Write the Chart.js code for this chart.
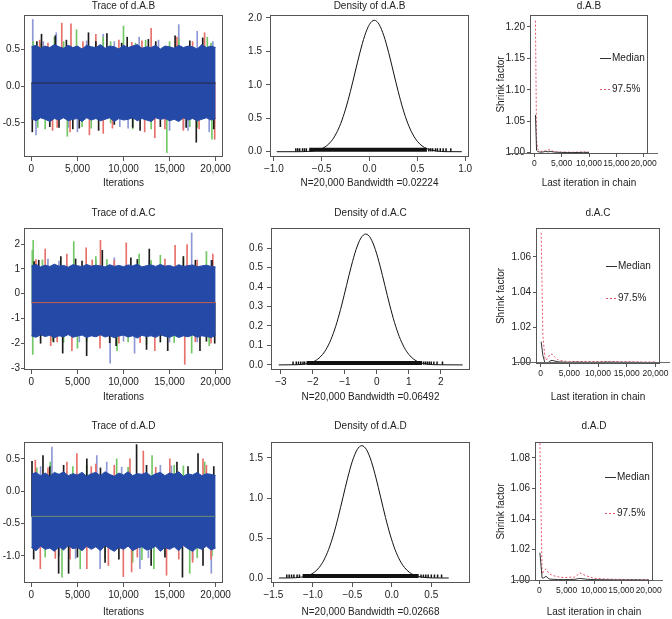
<!DOCTYPE html>
<html>
<head>
<meta charset="utf-8">
<script src="https://cdn.jsdelivr.net/npm/chart.js@4.4.0/dist/chart.umd.min.js"></script>
<style>
body { margin: 0; background: #fff; width: 672px; height: 619px; overflow: hidden; position: relative; }
canvas { position: absolute; }
</style>
</head>
<body>
<script>
// ---- data ----
var iterTicks = [0, 5000, 10000, 15000, 20000];
var iterRange = [0, 20000];
var bandIters = [0,500,1000,1500,2000,2500,3000,3500,4000,4500,5000,5500,6000,6500,7000,7500,8000,8500,9000,9500,10000,10500,11000,11500,12000,12500,13000,13500,14000,14500,15000,15500,16000,16500,17000,17500,18000,18500,19000,19500,20000];

// trace d.A.B : edges of the dense blue band + spikes of each chain that stick out
var abBandHi = [0.53,0.55,0.51,0.54,0.52,0.56,0.53,0.51,0.55,0.52,0.54,0.50,0.55,0.53,0.52,0.56,0.51,0.54,0.53,0.50,0.55,0.52,0.54,0.56,0.51,0.53,0.52,0.55,0.50,0.54,0.53,0.51,0.55,0.52,0.54,0.53,0.50,0.56,0.52,0.54,0.52];
var abBandLo = [-0.44,-0.47,-0.43,-0.45,-0.48,-0.44,-0.46,-0.43,-0.47,-0.45,-0.44,-0.48,-0.43,-0.46,-0.44,-0.47,-0.45,-0.43,-0.48,-0.44,-0.46,-0.45,-0.43,-0.47,-0.44,-0.46,-0.48,-0.43,-0.45,-0.44,-0.47,-0.45,-0.48,-0.43,-0.46,-0.44,-0.47,-0.45,-0.43,-0.46,-0.44];
var abBlack = [[100,-0.62],[1100,0.70],[2000,-0.55],[2600,0.68],[4500,-0.58],[6200,0.72],[7300,-0.60],[8200,0.71],[9000,-0.52],[10400,0.66],[11800,-0.60],[12700,0.63],[14000,-0.55],[15600,0.68],[17900,-0.76],[18600,0.65],[19800,-0.58],[600,0.60],[3000,-0.56],[3800,0.62],[5200,-0.57],[7000,0.60],[9800,0.58],[11000,-0.56],[13500,0.60],[16800,-0.56],[17200,0.61]];
var abRed = [[900,0.62],[2300,-0.60],[3300,0.85],[4200,-0.62],[4300,0.84],[6300,-0.66],[7000,0.70],[7800,-0.64],[9500,0.62],[12300,-0.62],[13000,0.78],[13400,-0.70],[15800,0.66],[16500,-0.60],[18800,0.72],[19900,-0.72],[1800,0.58],[2800,-0.56],[5600,0.60],[8800,-0.57],[10900,0.59],[12000,0.61],[14500,-0.58],[17500,0.60],[18200,-0.58]];
var abGreen = [[200,0.60],[1500,-0.58],[2500,0.66],[3900,-0.68],[4900,0.76],[5500,-0.55],[7800,0.66],[8600,-0.50],[10000,0.81],[11000,-0.58],[12400,0.62],[14700,-0.90],[16000,0.63],[17200,-0.55],[19100,0.66],[19600,-0.72],[700,-0.56],[1000,0.58],[3500,0.60],[6500,-0.57],[8600,0.60],[11300,0.58],[13000,-0.58],[15000,0.60],[18000,-0.56],[19500,0.58]];
var abBlue = [[150,0.90],[500,-0.66],[2700,0.72],[5000,-0.62],[7800,0.70],[9600,-0.55],[11700,0.66],[15000,-0.60],[16000,0.83],[17000,-0.60],[18000,0.74],[19300,-0.62],[1300,0.60],[4000,-0.56],[6000,0.61],[9000,0.60],[10500,-0.57],[13800,0.62],[16500,-0.58],[19700,0.60]];

// trace d.A.C
var acBandHi = [1.12,1.18,1.08,1.15,1.10,1.19,1.11,1.14,1.07,1.17,1.13,1.09,1.18,1.11,1.15,1.12,1.08,1.17,1.10,1.14,1.09,1.16,1.12,1.19,1.08,1.13,1.16,1.10,1.18,1.11,1.14,1.07,1.17,1.10,1.13,1.16,1.09,1.12,1.15,1.10,1.08];
var acBandLo = [-1.70,-1.76,-1.66,-1.73,-1.68,-1.78,-1.70,-1.74,-1.65,-1.76,-1.71,-1.67,-1.77,-1.70,-1.74,-1.66,-1.75,-1.69,-1.78,-1.71,-1.67,-1.75,-1.70,-1.79,-1.68,-1.73,-1.70,-1.76,-1.66,-1.72,-1.76,-1.68,-1.77,-1.70,-1.74,-1.67,-1.76,-1.70,-1.73,-1.77,-1.69];
var acBlack = [[300,1.30],[1000,-2.00],[3200,1.50],[3400,-2.40],[4800,1.40],[6000,-2.50],[7700,1.75],[9200,-2.10],[10800,1.45],[12500,-2.25],[12800,1.80],[14800,-2.30],[16500,1.50],[18300,-2.30],[19600,1.35],[19900,-2.00],[800,1.35],[2400,-1.95],[5500,1.32],[8500,-1.98],[11500,1.38],[14000,-1.95],[17800,1.35],[19000,-1.92]];
var acRed = [[1500,1.80],[2100,-2.10],[3850,1.60],[4400,-2.30],[5950,1.85],[7450,-2.20],[7500,2.15],[9500,-2.00],[10300,2.05],[13400,-2.30],[15600,1.95],[16650,-2.85],[16900,1.98],[19500,-2.00],[19700,1.60],[500,1.38],[2800,-1.95],[6600,1.36],[9000,1.34],[11800,-1.98],[14500,1.40],[18000,1.36],[17800,-1.94]];
var acGreen = [[100,1.75],[150,-2.45],[200,2.15],[2300,-1.90],[4600,2.10],[5000,-2.20],[7000,1.50],[9300,-2.30],[11700,1.60],[12500,-2.05],[14000,1.55],[17400,-2.40],[19000,1.70],[19300,-2.10],[1200,1.36],[3500,-1.96],[6000,-1.92],[8200,1.38],[10500,-1.95],[13000,1.34],[15500,-1.97],[16500,1.38]];
var acBlue = [[1800,1.40],[8550,-2.80],[9000,1.45],[11200,-2.40],[17400,2.45],[18000,-1.95],[3000,1.32],[5200,-1.95],[7000,1.35],[10000,-1.92],[12800,1.36],[15000,-1.95],[19500,1.34]];

// trace d.A.D
var adBandHi = [0.26,0.29,0.24,0.28,0.23,0.29,0.26,0.30,0.24,0.27,0.25,0.29,0.23,0.27,0.29,0.24,0.30,0.26,0.23,0.28,0.25,0.30,0.24,0.27,0.26,0.29,0.23,0.27,0.29,0.24,0.28,0.26,0.30,0.23,0.27,0.25,0.29,0.24,0.27,0.26,0.24];
var adBandLo = [-0.87,-0.92,-0.85,-0.90,-0.88,-0.93,-0.86,-0.91,-0.84,-0.89,-0.87,-0.92,-0.85,-0.90,-0.86,-0.92,-0.84,-0.89,-0.93,-0.87,-0.90,-0.85,-0.92,-0.88,-0.86,-0.91,-0.89,-0.85,-0.93,-0.87,-0.90,-0.86,-0.92,-0.84,-0.89,-0.93,-0.87,-0.90,-0.85,-0.91,-0.88];
var adBlack = [[70,0.46],[250,-1.05],[1260,0.55],[2960,-1.27],[3500,0.40],[4040,-1.27],[6020,0.50],[8000,-1.10],[11420,0.72],[13000,-1.15],[15800,0.45],[16400,-1.33],[18090,0.58],[18630,-1.15],[19800,0.38],[2000,0.38],[5000,-1.02],[7500,0.36],[9500,-1.05],[12500,0.40],[14500,-1.02],[17000,0.38]];
var adRed = [[430,0.48],[970,-1.20],[3860,0.45],[4200,-1.05],[4940,0.58],[6020,-1.20],[7000,0.42],[8360,-1.15],[9000,0.40],[9980,-1.32],[10700,0.50],[10880,-1.25],[12150,0.62],[14670,-1.30],[15030,0.50],[17500,-1.10],[18630,0.50],[19500,-1.05],[1800,0.36],[2600,-1.04],[6500,0.38],[11500,-1.02],[13500,0.37],[16000,-1.05],[19000,0.40]];
var adGreen = [[2050,0.45],[3320,-1.33],[4500,0.38],[5300,-1.20],[9260,0.50],[11000,-1.10],[13100,0.55],[13300,-1.20],[15500,0.40],[17190,-1.27],[18810,0.45],[19600,-1.00],[600,0.36],[1500,-1.02],[6000,0.40],[8000,-1.04],[10500,0.37],[12000,-1.06],[16500,0.39],[18000,-1.03]];
var adBlue = [[2230,0.68],[3000,-1.00],[7100,0.55],[7460,-1.20],[8180,0.45],[11780,-1.20],[14000,0.40],[19530,-1.27],[1000,0.38],[4800,-1.04],[9800,0.37],[12700,-1.03],[15200,0.39],[17500,-1.05]];

var traceMeans = [0.04, -0.36, -0.39];

// densities
var abDensX = [-0.97,-0.8,-0.7,-0.65,-0.6,-0.55,-0.5,-0.45,-0.4,-0.35,-0.3,-0.25,-0.2,-0.15,-0.1,-0.05,0,0.05,0.1,0.15,0.2,0.25,0.3,0.35,0.4,0.45,0.5,0.55,0.6,0.65,0.7,0.75,0.8,0.965];
var abDensY = [0,0,0.001,0.004,0.010,0.022,0.045,0.086,0.156,0.266,0.425,0.638,0.900,1.192,1.483,1.734,1.904,1.965,1.904,1.734,1.483,1.192,0.900,0.638,0.425,0.266,0.156,0.086,0.045,0.022,0.010,0.004,0.001,0];
var abRugDense = [-0.63, 0.60];
var abRugTails = [-0.77,-0.75,-0.73,-0.70,-0.68,-0.66,0.62,0.64,0.66,0.69,0.71,0.74,0.77,0.80,0.85];

var acDensX = [-3.07,-2.6,-2.45,-2.3,-2.15,-2.0,-1.85,-1.7,-1.55,-1.4,-1.25,-1.1,-0.95,-0.8,-0.65,-0.5,-0.35,-0.2,-0.05,0.1,0.25,0.4,0.55,0.7,0.85,1.0,1.15,1.3,1.45,1.6,1.75,1.9,2.68];
var acDensY = [0,0.001,0.0015,0.0034,0.0075,0.0153,0.0295,0.0535,0.0909,0.1454,0.2182,0.3076,0.4076,0.5072,0.5930,0.6513,0.672,0.6513,0.5930,0.5072,0.4076,0.3076,0.2182,0.1454,0.0909,0.0535,0.0295,0.0153,0.0075,0.0034,0.0015,0.001,0];
var acRugDense = [-2.2, 1.41];
var acRugTails = [-2.62,-2.52,-2.45,-2.38,-2.31,-2.26,1.46,1.52,1.58,1.64,1.70,1.78,1.88,2.05];

var adDensX = [-1.43,-1.28,-1.22,-1.16,-1.10,-1.04,-0.98,-0.92,-0.86,-0.80,-0.74,-0.68,-0.62,-0.56,-0.50,-0.44,-0.38,-0.32,-0.26,-0.20,-0.14,-0.08,-0.02,0.04,0.10,0.16,0.22,0.28,0.34,0.40,0.46,0.52,0.72];
var adDensY = [0,0.001,0.0036,0.0084,0.0184,0.0377,0.0726,0.1317,0.2238,0.3578,0.5371,0.7572,1.0032,1.2484,1.4596,1.6031,1.654,1.6031,1.4596,1.2484,1.0032,0.7572,0.5371,0.3578,0.2238,0.1317,0.0726,0.0377,0.0184,0.0084,0.0036,0.001,0];
var adRugDense = [-1.13, 0.34];
var adRugTails = [-1.33,-1.30,-1.27,-1.24,-1.20,-1.17,0.37,0.40,0.43,0.46,0.50,0.54,0.58,0.63];

var bandwidths = ['0.02224', '0.06492', '0.02668'];
var nIter = '20,000';

// gelman shrink factors
var abIters = [200,400,600,1000,1500,2000,2500,3000,3500,4000,5000,6000,7000,8000,9000,10000];
var abMedian = [1.060,1.004,1.002,1.001,1.001,1.002,1.0015,1.002,1.0012,1.0008,1.0005,1.0004,1.0003,1.0004,1.0006,1.0005];
var abUpper = [1.210,1.020,1.006,1.003,1.002,1.003,1.005,1.004,1.002,1.0015,1.001,1.001,1.0008,1.001,1.0012,1.001];

var acIters = [100,400,800,1200,1600,2000,2500,3000,4000,5000,6000,8000,10000,12000,14000,16000,18000,20000];
var acMedian = [1.0118,1.004,0.9993,0.9995,1.0008,1.0012,1.0008,1.0004,1.0002,1.0001,1.0002,1.0001,1.0001,1.0002,1.0001,1.0001,1.0000,1.0000];
var acUpper = [1.0737,1.015,1.0015,1.002,1.0045,1.0048,1.003,1.0015,1.0008,1.0005,1.0006,1.0005,1.0005,1.0006,1.0004,1.0004,1.0003,1.0003];

var adIters = [100,500,800,1200,1800,2500,3500,4500,5500,6500,7400,8500,10000,12000,14000,16000,18000,20000];
var adMedian = [1.018,1.0015,1.0015,1.0026,1.0008,1.0006,1.0005,1.0004,1.0005,1.0006,1.0012,1.0007,1.0004,1.0003,1.0002,1.0002,1.0002,1.0001];
var adUpper = [1.0896,1.004,1.006,1.0074,1.0043,1.003,1.0022,1.0017,1.002,1.002,1.0048,1.003,1.0013,1.0008,1.0006,1.0005,1.0004,1.0004];

// tick values
var traceYTicks = [[-0.5, 0, 0.5], [-3, -2, -1, 0, 1, 2], [-1, -0.5, 0, 0.5]];
var densXTicks = [[-1, -0.5, 0, 0.5, 1], [-3, -2, -1, 0, 1, 2], [-1.5, -1, -0.5, 0, 0.5]];
var densYTicks = [[0, 0.5, 1, 1.5, 2], [0, 0.1, 0.2, 0.3, 0.4, 0.5, 0.6], [0, 0.5, 1, 1.5]];
var shrinkYTicks = [[1, 1.05, 1.1, 1.15, 1.2], [1, 1.02, 1.04, 1.06], [1, 1.02, 1.04, 1.06, 1.08]];
var paramNames = ['d.A.B', 'd.A.C', 'd.A.D'];

// ---- layout / style ----
var FONT = '"Liberation Sans", Arial, Helvetica, sans-serif';
var INK = '#222';
var FRAME = '#555';
var BAND = '#2449a6';
var CHAIN = ['#1c1c1c', '#e8706a', '#72c765', '#8e98d6'];
var UPPER_COLOR = '#df536b';
var ML = 50, PT = 30, PR = 30, MB = 45;

var rowTitleY = [6, 213, 426];
var rowXlabY = [183, 397, 612];
var traceBoxes = [[24, 15, 223, 157], [24, 228, 223, 370], [24, 442, 223, 583]];
var densBoxes = [[270, 15, 469, 157], [271, 228, 470, 370], [271, 442, 470, 583]];
var shrinkBoxes = [[530, 15, 648, 154], [536, 228, 660, 364], [535, 442, 653, 581]];
var traceYRange = [[-0.96, 0.96], [-3.08, 2.65], [-1.42, 0.76]];
var densXRange = [[-1.04, 1.04], [-3.31, 2.91], [-1.53, 0.99]];
var densYRange = [[-0.079, 2.044], [-0.026, 0.703], [-0.0625, 1.70]];
var shrinkYRange = [[0.998, 1.219], [0.99914, 1.0764], [0.9995, 1.0904]];
var legendOffsets = [[43, 74], [38, 70], [35, 71]];
var shrinkYlabX = 501;

function pts(xs, ys) { return xs.map(function(x, i) { return {x: x, y: ys[i]}; }); }
function fmtIter(v) { return v === 0 ? '0' : v.toLocaleString('en-US'); }
function fmtNum(d, minus) {
    return function(v) { return (v < 0 ? minus : '') + Math.abs(v).toFixed(d); };
}

function axis(o) {
    return {
        type: 'linear', min: o.min, max: o.max, offset: false,
        afterBuildTicks: function(s) { s.ticks = o.ticks.map(function(v) { return {value: v}; }); },
        afterFit: function(s) { if (o.horizontal) s.height = MB; else s.width = ML; },
        ticks: {
            callback: function(v) { return o.fmt(v); },
            autoSkip: false, maxRotation: 0, minRotation: 0,
            padding: o.pad, color: INK, font: {family: FONT, size: o.size || 10}
        },
        grid: {offset: false, drawOnChartArea: false, drawTicks: true, tickLength: o.tick, tickColor: FRAME, tickWidth: 1},
        border: {display: false}
    };
}

function panelCanvas(box) {
    var c = document.createElement('canvas');
    var w = ML + (box[2] - box[0]) + PR, h = PT + (box[3] - box[1]) + MB;
    c.width = w; c.height = h;
    c.style.left = (box[0] - ML) + 'px';
    c.style.top = (box[1] - PT) + 'px';
    c.style.width = w + 'px'; c.style.height = h + 'px';
    document.body.appendChild(c);
    return c;
}

// frame, titles, axis labels, legend and the R abline
function textPlugin(p) {
    return {
        id: 'panelText',
        afterDatasetsDraw: function(chart) {
            if (p.refLine === undefined) return;
            var ctx = chart.ctx, a = chart.chartArea;
            var y = Math.round(chart.scales.y.getPixelForValue(p.refLine)) + 0.5;
            ctx.save();
            ctx.strokeStyle = '#6a6a6a'; ctx.lineWidth = 1;
            ctx.beginPath(); ctx.moveTo(a.left - 22, y); ctx.lineTo(a.right + 10, y); ctx.stroke();
            ctx.restore();
        },
        afterDraw: function(chart) {
            var ctx = chart.ctx, a = chart.chartArea;
            ctx.save();
            ctx.strokeStyle = FRAME; ctx.lineWidth = 1;
            ctx.strokeRect(a.left + 0.5, a.top + 0.5, a.right - a.left - 1, a.bottom - a.top - 1);
            ctx.fillStyle = INK;
            ctx.font = '10px ' + FONT;
            ctx.textAlign = 'center'; ctx.textBaseline = 'middle';
            var cx = (a.left + a.right) / 2;
            ctx.fillText(p.title, cx, p.titleY - p.top);
            ctx.fillText(p.xlab, cx, p.xlabY - p.top);
            if (p.ylab) {
                ctx.save();
                ctx.translate(p.ylabX - p.left, (a.top + a.bottom) / 2);
                ctx.rotate(-Math.PI / 2);
                ctx.fillText(p.ylab, 0, 0);
                ctx.restore();
            }
            if (p.legend) {
                var lx = a.left + 70;
                ctx.textAlign = 'left';
                [['#333', [], 'Median'], [UPPER_COLOR, [2, 2], '97.5%']].forEach(function(it, k) {
                    var ly = a.top + p.legend[k];
                    ctx.strokeStyle = it[0]; ctx.setLineDash(it[1]);
                    ctx.beginPath(); ctx.moveTo(lx, ly + 0.5); ctx.lineTo(lx + 11, ly + 0.5); ctx.stroke();
                    ctx.setLineDash([]);
                    ctx.fillText(it[2], lx + 12, ly);
                });
            }
            ctx.restore();
        }
    };
}

function makePanel(box, datasets, xAxis, yAxis, info) {
    info.left = box[0] - ML; info.top = box[1] - PT;
    return new Chart(panelCanvas(box), {
        type: 'line',
        data: {datasets: datasets},
        options: {
            responsive: false, animation: false, events: [],
            layout: {padding: {top: PT, right: PR, left: 0, bottom: 0}},
            plugins: {legend: {display: false}, tooltip: {enabled: false}},
            elements: {point: {radius: 0}, line: {tension: 0}},
            scales: {x: xAxis, y: yAxis}
        },
        plugins: [textPlugin(info)]
    });
}

var traces = [
    [abBandHi, abBandLo, [abBlack, abRed, abGreen, abBlue], '#2b2548'],
    [acBandHi, acBandLo, [acBlack, acRed, acGreen, acBlue], '#c7604c'],
    [adBandHi, adBandLo, [adBlack, adRed, adGreen, adBlue], '#6f8a6c']
];
var dens = [
    [abDensX, abDensY, abRugDense, abRugTails],
    [acDensX, acDensY, acRugDense, acRugTails],
    [adDensX, adDensY, adRugDense, adRugTails]
];
var shrinks = [[abIters, abMedian, abUpper], [acIters, acMedian, acUpper], [adIters, adMedian, adUpper]];

for (var r = 0; r < 3; r++) {
    // trace plot: mean line on top, blue band, then spikes of the chains behind it
    var t = traces[r], m = traceMeans[r];
    var sets = [
        {data: [{x: iterRange[0], y: m}, {x: iterRange[1], y: m}], borderColor: t[3], borderWidth: 1, fill: false},
        {data: pts(bandIters, t[0]), borderColor: BAND, backgroundColor: BAND, borderWidth: 1, fill: '+1'},
        {data: pts(bandIters, t[1]), borderColor: BAND, borderWidth: 1, fill: false}
    ];
    t[2].forEach(function(c, k) {
        sets.push({
            type: 'bar', grouped: false, barThickness: 1, backgroundColor: CHAIN[k],
            data: c.map(function(p) { return {x: p[0], y: [m, p[1]]}; })
        });
    });
    makePanel(traceBoxes[r], sets,
        axis({min: -800, max: 20800, ticks: iterTicks, fmt: fmtIter, horizontal: true, tick: 4, pad: 2}),
        axis({min: traceYRange[r][0], max: traceYRange[r][1], ticks: traceYTicks[r],
              fmt: fmtNum(r === 1 ? 0 : 1, '-'), tick: 3, pad: 1}),
        {title: 'Trace of ' + paramNames[r], xlab: 'Iterations', titleY: rowTitleY[r], xlabY: rowXlabY[r]});

    // density plot
    var d = dens[r];
    var rugY = Math.max.apply(null, d[1]) / 70;
    makePanel(densBoxes[r], [
        {data: pts(d[0], d[1]), borderColor: '#111', borderWidth: 1, cubicInterpolationMode: 'monotone', fill: false},
        {data: [{x: d[2][0], y: rugY}, {x: d[2][1], y: rugY}], borderColor: '#111', borderWidth: 4, fill: false},
        {data: d[3].map(function(x) { return {x: x, y: rugY}; }), showLine: false, borderColor: '#111',
         pointStyle: 'line', pointRotation: 90, pointRadius: 1.6, pointBorderColor: '#111', pointBorderWidth: 1.5}
    ],
        axis({min: densXRange[r][0], max: densXRange[r][1], ticks: densXTicks[r],
              fmt: fmtNum(r === 1 ? 0 : 1, '\u2212'), horizontal: true, tick: 4, pad: 2}),
        axis({min: densYRange[r][0], max: densYRange[r][1], ticks: densYTicks[r], fmt: fmtNum(1, ''), tick: 4, pad: 4}),
        {title: 'Density of ' + paramNames[r], xlab: 'N=' + nIter + ' Bandwidth =' + bandwidths[r],
         titleY: rowTitleY[r], xlabY: rowXlabY[r]});

    // gelman shrink factor plot
    var s = shrinks[r];
    makePanel(shrinkBoxes[r], [
        {data: pts(s[0], s[1]), borderColor: '#333', borderWidth: 1, fill: false},
        {data: pts(s[0], s[2]), borderColor: UPPER_COLOR, borderWidth: 1, borderDash: [2, 2], fill: false}
    ],
        axis({min: -800, max: 20800, ticks: iterTicks, fmt: fmtIter, horizontal: true, tick: 3, pad: 2, size: 8.5}),
        axis({min: shrinkYRange[r][0], max: shrinkYRange[r][1], ticks: shrinkYTicks[r], fmt: fmtNum(2, ''), tick: 3, pad: 2}),
        {title: paramNames[r], xlab: 'Last iteration in chain', ylab: 'Shrink factor', ylabX: shrinkYlabX,
         titleY: rowTitleY[r], xlabY: rowXlabY[r], legend: legendOffsets[r], refLine: 1});
}
</script>
</body>
</html>
